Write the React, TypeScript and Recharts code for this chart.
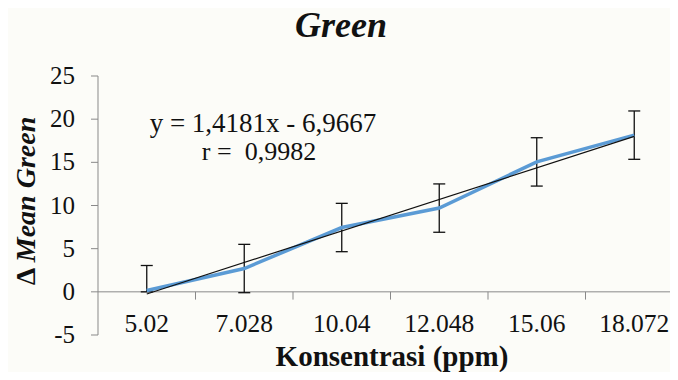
import React from "react";
import { ErrorBar, Line, LineChart, ReferenceLine, XAxis, YAxis } from "recharts";

// concentration categories (ppm) and Δ mean green values
const concentrations = ["5.02", "7.028", "10.04", "12.048", "15.06", "18.072"];
const meanGreen = [0.15, 2.7, 7.45, 9.7, 15.05, 18.15];
const errLow = [0.15, 2.8, 2.8, 2.8, 2.8, 2.8];
const errHigh = [2.9, 2.8, 2.8, 2.8, 2.8, 2.8];
// linear trendline, drawn between its two end points
const trendEnds = [-0.25, 18.0];
const yTicks = [-5, 0, 5, 10, 15, 20, 25];
const boundaries = [1, 2, 3, 4, 5];

const serif = '"Times New Roman", "Liberation Serif", Tinos, serif';
const axisGray = "#898989";

const rows = concentrations.map((c, i) => ({
  pos: i + 0.5,
  label: c,
  mean: meanGreen[i],
  err: [errLow[i], errHigh[i]],
  trend: i === 0 ? trendEnds[0] : i === concentrations.length - 1 ? trendEnds[1] : null,
}));

const XTick = ({ x, y, payload }: any) => (
  <text x={x} y={y - 3} textAnchor="middle" style={{ fontFamily: serif, fontSize: 25.5 }} fill="#111">
    {concentrations[Math.floor(payload.value)]}
  </text>
);

const YTick = ({ x, y, payload }: any) => (
  <text x={x} y={y + 8} textAnchor="end" style={{ fontFamily: serif, fontSize: 25 }} fill="#111">
    {payload.value}
  </text>
);

export default function App() {
  return (
    <div
      style={{
        margin: -8,
        width: 678,
        height: 380,
        overflow: "hidden",
        position: "relative",
        background: "#fcfcf8",
        fontFamily: serif,
      }}
    >
      <LineChart
        width={700}
        height={380}
        data={rows}
        margin={{ top: 76, right: 17, bottom: 15, left: 0 }}
        style={{ fontFamily: serif }}
      >
        <XAxis
          type="number"
          dataKey="pos"
          domain={[0, 6]}
          ticks={rows.map((r) => r.pos)}
          axisLine={false}
          tickLine={false}
          tickSize={0}
          tickMargin={0}
          height={30}
          tick={<XTick />}
        />
        <YAxis
          domain={[-5, 25]}
          ticks={yTicks}
          width={98}
          stroke={axisGray}
          tickSize={7}
          tickMargin={16}
          tick={<YTick />}
        />
        <ReferenceLine y={0} stroke={axisGray} strokeWidth={1} />
        {boundaries.map((b) => (
          <ReferenceLine key={b} segment={[{ x: b, y: 0 }, { x: b, y: -0.9 }]} stroke={axisGray} strokeWidth={1} />
        ))}
        <Line dataKey="mean" type="linear" stroke="#5b9bd5" strokeWidth={3.5} dot={false} isAnimationActive={false}>
          <ErrorBar dataKey="err" direction="y" width={6} stroke="#111" strokeWidth={1.3} isAnimationActive={false} />
        </Line>
        <Line dataKey="trend" type="linear" stroke="#111" strokeWidth={1.2} dot={false} connectNulls isAnimationActive={false} />
      </LineChart>
      <svg width={678} height={380} style={{ position: "absolute", left: 0, top: 0, pointerEvents: "none" }}>
        <text x={341} y={37} textAnchor="middle" fill="#111" style={{ fontFamily: serif, fontSize: 36, fontWeight: "bold", fontStyle: "italic" }}>
          Green
        </text>
        <text
          x={35}
          y={201}
          transform="rotate(-90, 35, 201)"
          textAnchor="middle"
          fill="#111"
          style={{ fontFamily: serif, fontSize: 28, fontWeight: "bold" }}
        >
          <tspan>Δ </tspan>
          <tspan style={{ fontStyle: "italic" }}>Mean Green</tspan>
        </text>
        <text x={392} y={366} textAnchor="middle" fill="#111" style={{ fontFamily: serif, fontSize: 29, fontWeight: "bold" }}>
          Konsentrasi (ppm)
        </text>
        <text x={263} y={132} textAnchor="middle" fill="#111" style={{ fontFamily: serif, fontSize: 27 }}>
          y = 1,4181x - 6,9667
        </text>
        <text x={259} y={160} textAnchor="middle" fill="#111" style={{ fontFamily: serif, fontSize: 26, whiteSpace: "pre" }}>
          {"r =  0,9982"}
        </text>
      </svg>
    </div>
  );
}
